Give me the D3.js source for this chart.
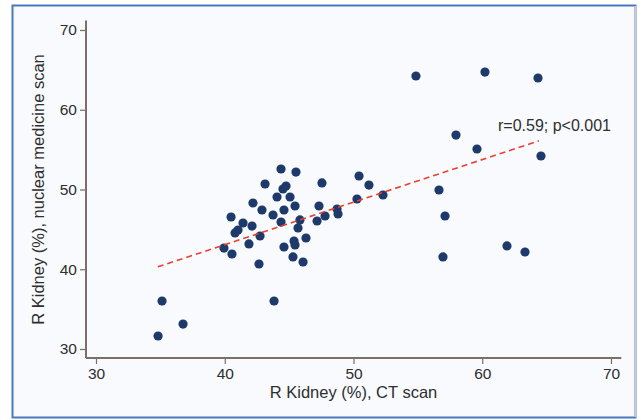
<!DOCTYPE html>
<html>
<head>
<meta charset="utf-8">
<script src="https://cdn.jsdelivr.net/npm/d3@7"></script>
<style>
  html, body { margin: 0; padding: 0; background: #fff; }
  svg { display: block; font-family: "Liberation Sans", Arial, sans-serif; }
</style>
</head>
<body>
<div id="chart"></div>
<script>
// R kidney share, CT scan (x) vs nuclear medicine scan (y)
var ctScan = [54.85, 60.21, 64.33, 57.96, 59.59, 64.56, 56.64, 57.11, 61.92, 63.32,
  56.95, 35.13, 43.83, 36.76, 34.82, 50.43, 47.55, 51.20, 52.29, 50.27,
  47.32, 48.72, 48.80, 47.79, 47.17, 45.84, 45.69, 46.31, 46.08, 44.37,
  45.53, 43.13, 44.52, 44.06, 45.07, 42.19, 45.46, 42.89, 44.60, 43.75,
  40.49, 41.42, 44.37, 42.12, 41.03, 40.80, 42.74, 45.38, 45.46, 41.88,
  44.60, 39.94, 40.56, 45.30, 42.66, 44.76];
var nuclearScan = [64.23, 64.73, 63.98, 56.83, 55.08, 54.20, 49.94, 46.68, 42.92, 42.16,
  41.54, 36.02, 36.02, 33.13, 31.63, 51.69, 50.82, 50.56, 49.31, 48.81,
  47.93, 47.55, 46.93, 46.68, 46.05, 46.18, 45.17, 43.92, 40.91, 52.57,
  52.19, 50.69, 50.06, 49.06, 49.06, 48.31, 47.93, 47.43, 47.43, 46.80,
  46.55, 45.80, 45.92, 45.42, 44.92, 44.55, 44.17, 43.54, 43.04, 43.17,
  42.79, 42.66, 41.91, 41.54, 40.66, 50.44];
var fitX = [34.8, 64.4];
var fitY = [40.3, 56.1];
var ticks = [30, 40, 50, 60, 70];
var xTitle = "R Kidney (%), CT scan";
var yTitle = "R Kidney (%), nuclear medicine scan";
var note = "r=0.59; p<0.001";

var width = 641, height = 420;
var axisColor = "#7b6f68", textColor = "#2e2e2e";

var svg = d3.select("#chart").append("svg")
    .attr("width", width)
    .attr("height", height);

// outer frame
svg.append("rect")
    .attr("x", 12.5).attr("y", 5.5)
    .attr("width", 623).attr("height", 412)
    .attr("fill", "#f8fafd")
    .attr("stroke", "#4a78bd")
    .attr("stroke-width", 2);
svg.append("line")
    .attr("x1", 635.5).attr("x2", 635.5).attr("y1", 6).attr("y2", 417)
    .attr("stroke", "#c9ccd2").attr("stroke-width", 2);

var x = d3.scaleLinear().domain([30, 70]).range([96, 611]);
var y = d3.scaleLinear().domain([30, 70]).range([349, 30]);

var xAxis = svg.append("g")
    .attr("transform", "translate(0,358)")
    .call(d3.axisBottom(x).tickValues(ticks).tickSize(6).tickPadding(4));
var yAxis = svg.append("g")
    .attr("transform", "translate(86,0)")
    .call(d3.axisLeft(y).tickValues(ticks).tickSize(6).tickPadding(3));

[xAxis, yAxis].forEach(function (g) {
    g.select(".domain").remove();
    g.selectAll(".tick line").attr("stroke", axisColor).attr("stroke-width", 1.2);
    g.selectAll(".tick text")
        .attr("fill", textColor)
        .attr("font-size", 15.5)
        .attr("font-family", "Liberation Sans, Arial, sans-serif");
});

// axis lines run a little past the tick range
svg.append("line")
    .attr("x1", 86).attr("x2", x(70.8))
    .attr("y1", 358).attr("y2", 358)
    .attr("stroke", axisColor).attr("stroke-width", 2);
svg.append("line")
    .attr("x1", 86).attr("x2", 86)
    .attr("y1", 358).attr("y2", y(71.2))
    .attr("stroke", axisColor).attr("stroke-width", 2);

svg.append("text")
    .attr("x", x(50)).attr("y", 398)
    .attr("text-anchor", "middle")
    .attr("font-size", 16.5)
    .attr("fill", textColor)
    .text(xTitle);

svg.append("text")
    .attr("transform", "translate(44," + y(50) + ") rotate(-90)")
    .attr("text-anchor", "middle")
    .attr("font-size", 16.5)
    .attr("fill", textColor)
    .text(yTitle);

var pts = ctScan.map(function (d, i) { return { x: d, y: nuclearScan[i] }; });

svg.append("g").selectAll("circle")
    .data(pts)
    .enter().append("circle")
    .attr("cx", function (d) { return x(d.x); })
    .attr("cy", function (d) { return y(d.y); })
    .attr("r", 4.6)
    .attr("fill", "#1d3a6a");

svg.append("line")
    .attr("x1", x(fitX[0])).attr("y1", y(fitY[0]))
    .attr("x2", x(fitX[1])).attr("y2", y(fitY[1]))
    .attr("stroke", "#e8402f")
    .attr("stroke-width", 1.6)
    .attr("stroke-dasharray", "6,4");

svg.append("text")
    .attr("x", 498).attr("y", 131)
    .attr("font-size", 16)
    .attr("fill", textColor)
    .text(note);
</script>
</body>
</html>
